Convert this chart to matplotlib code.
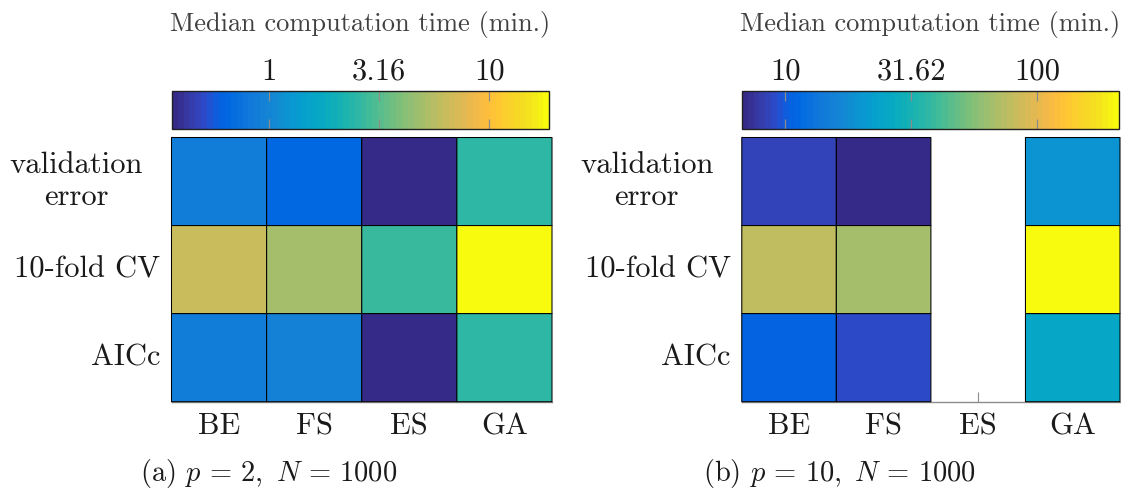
import numpy as np
import matplotlib
matplotlib.use("Agg")
import matplotlib.pyplot as plt
from matplotlib.colors import ListedColormap, LogNorm
from matplotlib.ticker import FixedLocator, FixedFormatter, NullLocator
from matplotlib.transforms import blended_transform_factory, ScaledTranslation

plt.rcParams["font.family"] = "cmr10"
plt.rcParams["mathtext.fontset"] = "cm"
plt.rcParams["axes.formatter.use_mathtext"] = True

# ---- data -------------------------------------------------------------
methods = ["BE", "FS", "ES", "GA"]
criteria = ["validation\nerror", "10-fold CV", "AICc"]

# median computation time in minutes (rows: criteria, cols: methods)
time_p2 = [
    [0.86, 0.65, 0.362, 2.5],
    [6.2, 5.1, 2.69, 18.7],
    [0.90, 0.93, 0.37, 2.6],
]
time_p10 = [
    [8.5, 6.71, np.nan, 19.0],
    [78.0, 65.6, np.nan, 212.0],
    [10.4, 8.8, np.nan, 25.5],
]

cbar_ticks_p2 = [1, 3.1623, 10]
cbar_labels_p2 = ["1", "3.16", "10"]
cbar_ticks_p10 = [10, 31.623, 100]
cbar_labels_p10 = ["10", "31.62", "100"]

captions = [r"(a) $p\,=\,2,\ N\,=\,1000$", r"(b) $p\,=\,10,\ N\,=\,1000$"]
cbar_title = "Median computation time (min.)"

# ---- parula colormap --------------------------------------------------
_parula = [
    [0.2081, 0.1663, 0.5292], [0.2116, 0.1898, 0.5777], [0.2123, 0.2138, 0.6270],
    [0.2081, 0.2386, 0.6771], [0.1959, 0.2645, 0.7279], [0.1707, 0.2919, 0.7792],
    [0.1253, 0.3242, 0.8303], [0.0591, 0.3598, 0.8683], [0.0117, 0.3875, 0.8820],
    [0.0060, 0.4086, 0.8828], [0.0165, 0.4266, 0.8786], [0.0329, 0.4430, 0.8720],
    [0.0498, 0.4586, 0.8641], [0.0629, 0.4737, 0.8554], [0.0723, 0.4887, 0.8467],
    [0.0779, 0.5040, 0.8384], [0.0793, 0.5200, 0.8312], [0.0749, 0.5375, 0.8263],
    [0.0641, 0.5570, 0.8240], [0.0488, 0.5772, 0.8228], [0.0343, 0.5966, 0.8199],
    [0.0265, 0.6137, 0.8135], [0.0239, 0.6287, 0.8038], [0.0231, 0.6418, 0.7913],
    [0.0228, 0.6535, 0.7768], [0.0267, 0.6642, 0.7607], [0.0384, 0.6743, 0.7436],
    [0.0590, 0.6838, 0.7254], [0.0843, 0.6928, 0.7062], [0.1133, 0.7015, 0.6859],
    [0.1453, 0.7098, 0.6646], [0.1801, 0.7177, 0.6424], [0.2178, 0.7250, 0.6193],
    [0.2586, 0.7317, 0.5954], [0.3022, 0.7376, 0.5712], [0.3482, 0.7424, 0.5473],
    [0.3953, 0.7459, 0.5244], [0.4420, 0.7481, 0.5033], [0.4871, 0.7491, 0.4840],
    [0.5300, 0.7491, 0.4661], [0.5709, 0.7485, 0.4494], [0.6099, 0.7473, 0.4337],
    [0.6473, 0.7456, 0.4188], [0.6834, 0.7435, 0.4044], [0.7184, 0.7411, 0.3905],
    [0.7525, 0.7384, 0.3768], [0.7858, 0.7356, 0.3633], [0.8185, 0.7327, 0.3498],
    [0.8507, 0.7299, 0.3360], [0.8824, 0.7274, 0.3217], [0.9139, 0.7258, 0.3063],
    [0.9450, 0.7261, 0.2886], [0.9739, 0.7314, 0.2666], [0.9938, 0.7455, 0.2403],
    [0.9990, 0.7653, 0.2164], [0.9955, 0.7861, 0.1967], [0.9880, 0.8066, 0.1794],
    [0.9789, 0.8271, 0.1633], [0.9697, 0.8481, 0.1475], [0.9626, 0.8705, 0.1309],
    [0.9589, 0.8949, 0.1132], [0.9598, 0.9218, 0.0948], [0.9661, 0.9514, 0.0755],
    [0.9763, 0.9831, 0.0538],
]
parula = ListedColormap(_parula, name="parula")

TEXT = "#1a1a1a"
GRAY = "#8c8c8c"

fig = plt.figure(figsize=(11.21, 4.9), dpi=100)
W, H = 1121.0, 490.0


def px_axes(x0, x1, y0, y1):
    return fig.add_axes([x0 / W, (H - y1) / H, (x1 - x0) / W, (y1 - y0) / H])


panels = [
    dict(data=time_p2, ticks=cbar_ticks_p2, labels=cbar_labels_p2,
         heat=(171.5, 552.0), cbar=(171.7, 549.3), cap_x=269),
    dict(data=time_p10, ticks=cbar_ticks_p10, labels=cbar_labels_p10,
         heat=(741.8, 1120.0), cbar=(741.7, 1119.3), cap_x=839),
]

for i, p in enumerate(panels):
    z = np.ma.masked_invalid(np.array(p["data"], dtype=float))
    norm = LogNorm(vmin=z.min(), vmax=z.max())

    ax = px_axes(p["heat"][0], p["heat"][1], 137.5, 401.7)
    # pcolor skips masked cells entirely (no face, no edge)
    cells = ax.pcolor(np.arange(len(methods) + 1), np.arange(len(criteria) + 1),
                      z, cmap=parula, norm=norm, edgecolors="black",
                      linewidth=0.75, zorder=2)
    cells.set_clip_on(False)
    ax.set_xlim(0, len(methods))
    ax.set_ylim(len(criteria), 0)
    ax.set_axisbelow(True)
    for s in ("top", "right"):
        ax.spines[s].set_visible(False)
    for s in ("left", "bottom"):
        ax.spines[s].set_color(GRAY)
        ax.spines[s].set_linewidth(1.0)
        ax.spines[s].set_zorder(0.5)
    ax.set_xticks(np.arange(len(methods)) + 0.5)
    ax.set_xticklabels(methods, fontsize=22, color=TEXT)
    ax.set_yticks(np.arange(len(criteria)) + 0.5)
    ax.set_yticklabels([])
    ax.tick_params(axis="x", direction="in", length=7.5, width=0.8, color=GRAY, pad=8)
    ax.tick_params(axis="y", direction="in", length=7.5, width=0.8, color=GRAY)

    # row labels
    trans = blended_transform_factory(ax.transAxes, ax.transData)
    for r, lab in enumerate(criteria):
        if "\n" in lab:
            off = ScaledTranslation(-95 / 100, 0, fig.dpi_scale_trans)
            ax.text(0, r + 0.5, lab, transform=trans + off, ha="center", va="center",
                    multialignment="center", fontsize=22, color=TEXT, linespacing=1.2)
        else:
            off = ScaledTranslation(-11 / 100, 0, fig.dpi_scale_trans)
            ax.text(0, r + 0.5, lab, transform=trans + off, ha="right", va="center",
                    fontsize=22, color=TEXT)

    # colour bar
    cax = px_axes(p["cbar"][0], p["cbar"][1], 91.0, 129.0)
    cb = fig.colorbar(cells, cax=cax, orientation="horizontal")
    cb.outline.set_edgecolor("#202020")
    cb.outline.set_linewidth(1.0)
    cax.xaxis.set_major_locator(FixedLocator(p["ticks"]))
    cax.xaxis.set_major_formatter(FixedFormatter(p["labels"]))
    cax.xaxis.set_minor_locator(NullLocator())
    cax.tick_params(axis="x", which="major", direction="in", top=True, bottom=True,
                    labeltop=True, labelbottom=False, length=7.5, width=0.9,
                    color=GRAY, labelsize=22, labelcolor=TEXT, pad=3.6)
    cx = (p["cbar"][0] + p["cbar"][1]) / 2
    fig.text(cx / W, (H - 31.5) / H, cbar_title, ha="center", va="baseline",
             fontsize=19, color="#404040")

    fig.text(p["cap_x"] / W, (H - 481) / H, captions[i], ha="center", va="baseline",
             fontsize=20.5, color=TEXT)

fig.savefig("out.png", dpi=100)
